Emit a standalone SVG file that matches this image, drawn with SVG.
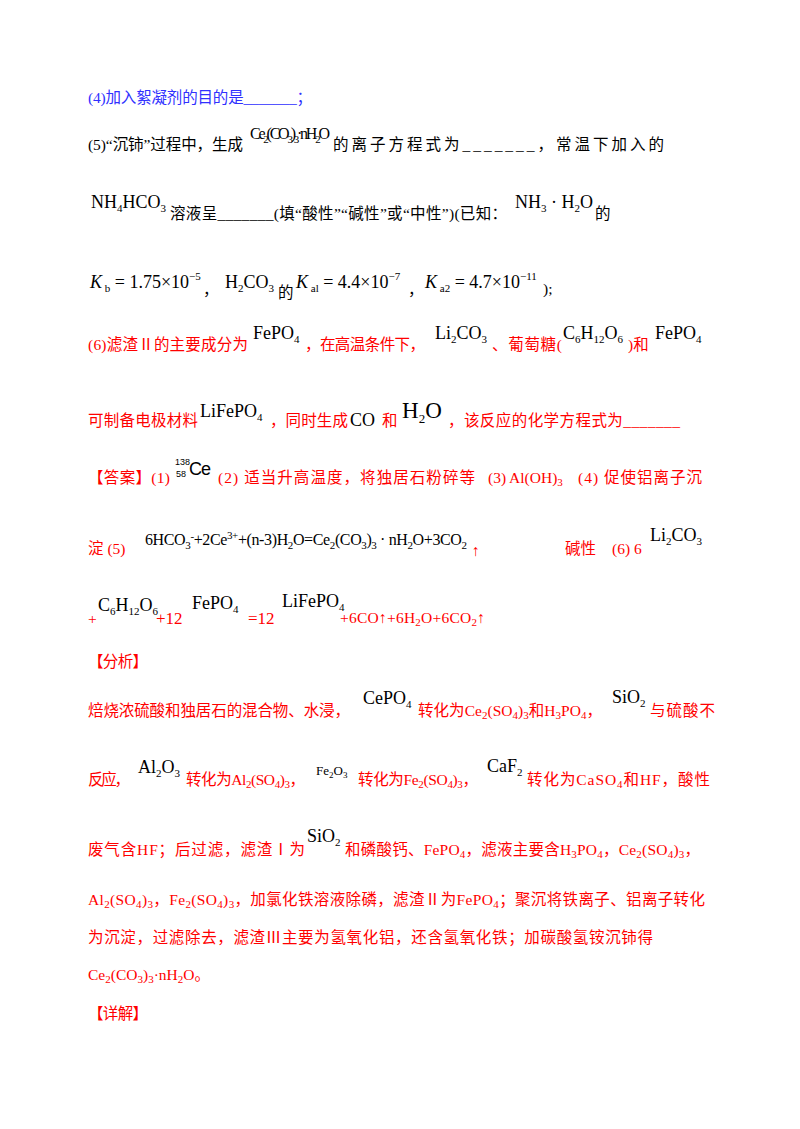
<svg xmlns="http://www.w3.org/2000/svg" width="800" height="1129" viewBox="0 0 800 1129">
<style>
text{font-family:"Liberation Serif","Noto Sans CJK SC",serif;font-size:15.5px}
.b{fill:#3030ff}.k{fill:#000}.r{fill:#ff0000}
.f{font-family:"Liberation Serif",serif;font-size:18px}
.s{font-size:11px}
</style>
<rect width="800" height="1129" fill="#fff"/>
<g id="q4"><text class="b" x="88" y="103" textLength="224">(4)加入絮凝剂的目的是_______；</text></g>
<g id="q5" class="k">
<text x="88" y="150" textLength="155">(5)“沉铈”过程中，生成</text>
<text class="f" x="250" y="139" style="font-size:16px" textLength="80">Ce<tspan class="s" dy="4">2</tspan><tspan dy="-4">(CO</tspan><tspan class="s" dy="4">3</tspan><tspan dy="-4">)</tspan><tspan class="s" dy="4">3</tspan><tspan dy="-4">·nH</tspan><tspan class="s" dy="4">2</tspan><tspan dy="-4">O</tspan></text>
<text x="333" y="150" textLength="331">的离子方程式为_______，常温下加入的</text>
<text class="f" x="91" y="208">NH<tspan class="s" dy="4">4</tspan><tspan dy="-4">HCO</tspan><tspan class="s" dy="4">3</tspan></text>
<text x="170" y="219" textLength="337">溶液呈_______(填“酸性”“碱性”或“中性”)(已知：</text>
<text class="f" x="515" y="208">NH<tspan class="s" dy="4">3</tspan><tspan dy="-4"> · H</tspan><tspan class="s" dy="4">2</tspan><tspan dy="-4">O</tspan></text>
<text x="595" y="219">的</text>
<text class="f" x="90" y="288"><tspan font-style="italic">K</tspan><tspan class="s" dy="4"> b</tspan><tspan dy="-4"> = 1.75×10</tspan><tspan class="s" dy="-8">−5</tspan></text>
<text x="203" y="295">，</text>
<text class="f" x="225" y="288">H<tspan class="s" dy="4">2</tspan><tspan dy="-4">CO</tspan><tspan class="s" dy="4">3</tspan></text>
<text x="278" y="298">的</text>
<text class="f" x="296" y="288"><tspan font-style="italic">K</tspan><tspan class="s" dy="4"> al</tspan><tspan dy="-4"> = 4.4×10</tspan><tspan class="s" dy="-8">−7</tspan></text>
<text x="408" y="295">，</text>
<text class="f" x="425" y="288"><tspan font-style="italic">K</tspan><tspan class="s" dy="4"> a2</tspan><tspan dy="-4"> = 4.7×10</tspan><tspan class="s" dy="-8">−11</tspan></text>
<text x="543" y="294">);</text>
</g>
<g id="q6" class="r">
<text x="88" y="350" textLength="160">(6)滤渣Ⅱ的主要成分为</text>
<text class="f k" x="253" y="339">FePO<tspan class="s" dy="4">4</tspan></text>
<text x="305" y="350" textLength="120">，在高温条件下，</text>
<text class="f k" x="435" y="339">Li<tspan class="s" dy="4">2</tspan><tspan dy="-4">CO</tspan><tspan class="s" dy="4">3</tspan></text>
<text x="492" y="350" textLength="70">、葡萄糖(</text>
<text class="f k" x="563" y="339">C<tspan class="s" dy="4">6</tspan><tspan dy="-4">H</tspan><tspan class="s" dy="4">12</tspan><tspan dy="-4">O</tspan><tspan class="s" dy="4">6</tspan></text>
<text x="628" y="350">)和</text>
<text class="f k" x="655" y="339">FePO<tspan class="s" dy="4">4</tspan></text>
<text x="88" y="426" textLength="110">可制备电极材料</text>
<text class="f k" x="200" y="417">LiFePO<tspan class="s" dy="4">4</tspan></text>
<text x="270" y="426" textLength="78">，同时生成</text>
<text class="f k" x="350" y="426">CO</text>
<text x="382" y="426">和</text>
<text class="k" x="402" y="418" style="font-family:'Liberation Serif',serif;font-size:23px">H<tspan style="font-size:13px" dy="5">2</tspan><tspan dy="-5">O</tspan></text>
<text x="448" y="426" textLength="232">，该反应的化学方程式为_______</text>
</g>
<g id="answer" class="r">
<text x="88" y="483" textLength="82">【答案】(1)</text>
<text class="k" x="175" y="465" style="font-family:'Liberation Sans',sans-serif;font-size:9px">138</text>
<text class="k" x="176" y="477" style="font-family:'Liberation Sans',sans-serif;font-size:9px">58</text>
<text class="k" x="189" y="475" style="font-family:'Liberation Sans',sans-serif;font-size:18px;letter-spacing:-1px">Ce</text>
<text x="218" y="483" textLength="257">(2) 适当升高温度，将独居石粉碎等</text>
<text x="488" y="483">(3) Al(OH)<tspan class="s" dy="3">3</tspan></text>
<text x="578" y="483" textLength="124">(4) 促使铝离子沉</text>
<text x="88" y="554">淀  (5)</text>
<text class="f k" x="145" y="545" style="font-size:16px" textLength="322">6HCO<tspan class="s" dy="4">3</tspan><tspan class="s" dy="-9">-</tspan><tspan dy="5">+2Ce</tspan><tspan class="s" dy="-6">3+</tspan><tspan dy="6">+(n-3)H</tspan><tspan class="s" dy="4">2</tspan><tspan dy="-4">O=Ce</tspan><tspan class="s" dy="4">2</tspan><tspan dy="-4">(CO</tspan><tspan class="s" dy="4">3</tspan><tspan dy="-4">)</tspan><tspan class="s" dy="4">3</tspan><tspan dy="-4"> · nH</tspan><tspan class="s" dy="4">2</tspan><tspan dy="-4">O+3CO</tspan><tspan class="s" dy="4">2</tspan></text>
<text x="472" y="556">↑</text>
<text x="565" y="554">碱性</text>
<text x="612" y="554">(6)  6</text>
<text class="f k" x="650" y="541">Li<tspan class="s" dy="4">2</tspan><tspan dy="-4">CO</tspan><tspan class="s" dy="4">3</tspan></text>
<text x="88" y="624">+</text>
<text class="f k" x="98" y="611">C<tspan class="s" dy="4">6</tspan><tspan dy="-4">H</tspan><tspan class="s" dy="4">12</tspan><tspan dy="-4">O</tspan><tspan class="s" dy="4">6</tspan></text>
<text x="156" y="624" style="font-size:17px">+12</text>
<text class="f k" x="192" y="609">FePO<tspan class="s" dy="4">4</tspan></text>
<text x="248" y="624" style="font-size:17px">=12</text>
<text class="f k" x="282" y="607">LiFePO<tspan class="s" dy="4">4</tspan></text>
<text x="340" y="623" textLength="145">+6CO↑+6H<tspan class="s" dy="3">2</tspan><tspan dy="-3">O+6CO</tspan><tspan class="s" dy="3">2</tspan><tspan dy="-3">↑</tspan></text>
</g>
<g id="analysis" class="r">
<text x="88" y="667" textLength="60">【分析】</text>
<text x="88" y="716" textLength="262">焙烧浓硫酸和独居石的混合物、水浸，</text>
<text class="f k" x="363" y="704">CePO<tspan class="s" dy="4">4</tspan></text>
<text x="418" y="716" textLength="184">转化为Ce<tspan class="s" dy="3">2</tspan><tspan dy="-3">(SO</tspan><tspan class="s" dy="3">4</tspan><tspan dy="-3">)</tspan><tspan class="s" dy="3">3</tspan><tspan dy="-3">和H</tspan><tspan class="s" dy="3">3</tspan><tspan dy="-3">PO</tspan><tspan class="s" dy="3">4</tspan><tspan dy="-3">，</tspan></text>
<text class="f k" x="612" y="703">SiO<tspan class="s" dy="4">2</tspan></text>
<text x="650" y="716" textLength="65">与硫酸不</text>
<text x="88" y="785" textLength="42">反应，</text>
<text class="f k" x="138" y="773">Al<tspan class="s" dy="4">2</tspan><tspan dy="-4">O</tspan><tspan class="s" dy="4">3</tspan></text>
<text x="186" y="785" textLength="119">转化为Al<tspan class="s" dy="3">2</tspan><tspan dy="-3">(SO</tspan><tspan class="s" dy="3">4</tspan><tspan dy="-3">)</tspan><tspan class="s" dy="3">3</tspan><tspan dy="-3">，</tspan></text>
<text class="k" x="316" y="775" style="font-family:'Liberation Serif',serif;font-size:13px">Fe<tspan style="font-size:9px" dy="3">2</tspan><tspan dy="-3">O</tspan><tspan style="font-size:9px" dy="3">3</tspan></text>
<text x="358" y="785" textLength="120">转化为Fe<tspan class="s" dy="3">2</tspan><tspan dy="-3">(SO</tspan><tspan class="s" dy="3">4</tspan><tspan dy="-3">)</tspan><tspan class="s" dy="3">3</tspan><tspan dy="-3">，</tspan></text>
<text class="f k" x="487" y="772">CaF<tspan class="s" dy="4">2</tspan></text>
<text x="527" y="785" textLength="183">转化为CaSO<tspan class="s" dy="3">4</tspan><tspan dy="-3">和HF，酸性</tspan></text>
<text x="88" y="855" textLength="217">废气含HF；后过滤，滤渣Ⅰ为</text>
<text class="f k" x="307" y="842">SiO<tspan class="s" dy="4">2</tspan></text>
<text x="345" y="855" textLength="355">和磷酸钙、FePO<tspan class="s" dy="3">4</tspan><tspan dy="-3">，滤液主要含H</tspan><tspan class="s" dy="3">3</tspan><tspan dy="-3">PO</tspan><tspan class="s" dy="3">4</tspan><tspan dy="-3">，Ce</tspan><tspan class="s" dy="3">2</tspan><tspan dy="-3">(SO</tspan><tspan class="s" dy="3">4</tspan><tspan dy="-3">)</tspan><tspan class="s" dy="3">3</tspan><tspan dy="-3">，</tspan></text>
<text x="88" y="905" textLength="617">Al<tspan class="s" dy="3">2</tspan><tspan dy="-3">(SO</tspan><tspan class="s" dy="3">4</tspan><tspan dy="-3">)</tspan><tspan class="s" dy="3">3</tspan><tspan dy="-3">，Fe</tspan><tspan class="s" dy="3">2</tspan><tspan dy="-3">(SO</tspan><tspan class="s" dy="3">4</tspan><tspan dy="-3">)</tspan><tspan class="s" dy="3">3</tspan><tspan dy="-3">，加氯化铁溶液除磷，滤渣Ⅱ为FePO</tspan><tspan class="s" dy="3">4</tspan><tspan dy="-3">；聚沉将铁离子、铝离子转化</tspan></text>
<text x="88" y="943" textLength="565">为沉淀，过滤除去，滤渣Ⅲ主要为氢氧化铝，还含氢氧化铁；加碳酸氢铵沉铈得</text>
<text x="88" y="980" textLength="122">Ce<tspan class="s" dy="3">2</tspan><tspan dy="-3">(CO</tspan><tspan class="s" dy="3">3</tspan><tspan dy="-3">)</tspan><tspan class="s" dy="3">3</tspan><tspan dy="-3">·nH</tspan><tspan class="s" dy="3">2</tspan><tspan dy="-3">O。</tspan></text>
<text x="88" y="1019" textLength="60">【详解】</text>
</g>
</svg>
